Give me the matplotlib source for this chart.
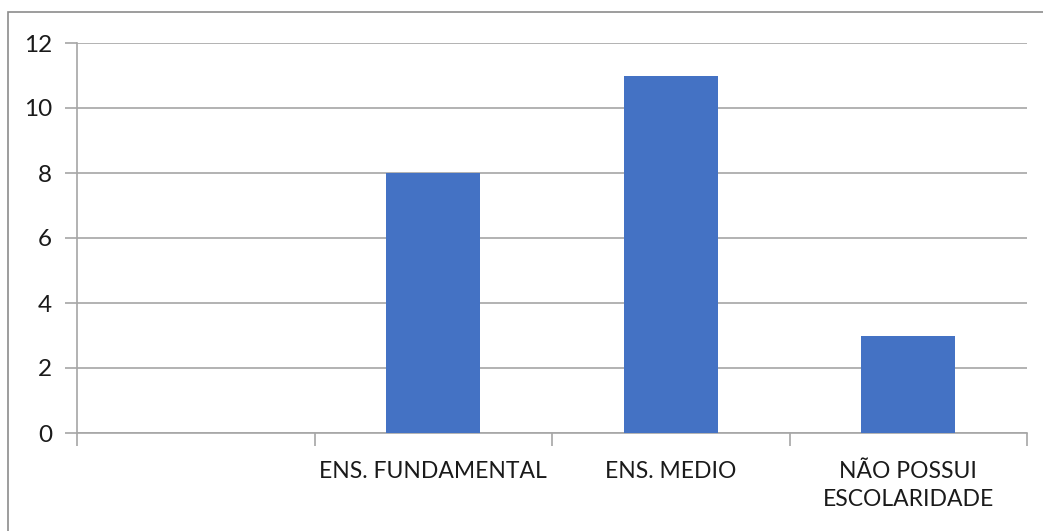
import numpy as np
import matplotlib.pyplot as plt
from matplotlib.patches import Rectangle

categories = ["", "ENS. FUNDAMENTAL", "ENS. MEDIO", "NÃO POSSUI\nESCOLARIDADE"]
values = [0, 8, 11, 3]
yticks = [0, 2, 4, 6, 8, 10, 12]

plt.rcParams['font.family'] = ['Lato', 'DejaVu Sans']
grid_col = "#a6a6a6"

fig = plt.figure(figsize=(10.43, 5.31), dpi=100)
ax = fig.add_axes([77 / 1043, 98 / 531, 950 / 1043, 390 / 531])

x = np.arange(len(categories))
ax.bar(x, values, width=0.395, color="#4472c4", zorder=3)

ax.set_xlim(-0.5, len(categories) - 0.5)
ax.set_ylim(0, 12)
ax.set_yticks(yticks)
ax.set_yticklabels([str(v) for v in yticks], fontsize=17.5, color="#1a1a1a")
ax.set_xticks(x)
ax.set_xticklabels(categories, fontsize=16.5, color="#1a1a1a", linespacing=1.45)
ax.set_xticks(np.arange(-0.5, len(categories)), minor=True)
ax.tick_params(axis="x", which="major", length=0, pad=20)
ax.tick_params(axis="x", which="minor", length=9, color=grid_col, width=1.2)
ax.tick_params(axis="y", length=9, color=grid_col, width=1.2, pad=9)

ax.yaxis.grid(True, color=grid_col, linewidth=1.2, zorder=0)
for s in ["top", "right"]:
    ax.spines[s].set_visible(False)
ax.spines["left"].set_color(grid_col)
ax.spines["bottom"].set_color(grid_col)
ax.spines["left"].set_linewidth(1.2)
ax.spines["bottom"].set_linewidth(1.2)

fig.patches.append(Rectangle((8 / 1043, -0.05), 1.1, 1 - 12 / 531 + 0.05,
                             transform=fig.transFigure, fill=False,
                             edgecolor="#8c8c8c", linewidth=1.2))

fig.savefig("out.png", dpi=100)
